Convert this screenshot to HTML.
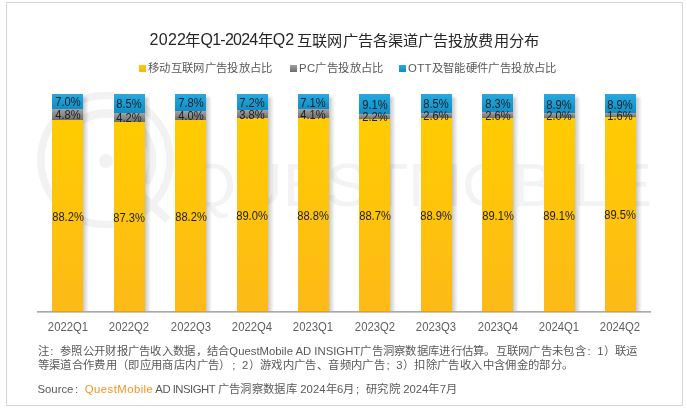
<!DOCTYPE html>
<html lang="zh-CN"><head><meta charset="utf-8">
<style>
*{margin:0;padding:0;box-sizing:border-box}
html,body{width:687px;height:412px;background:#fff;overflow:hidden;font-family:"Liberation Sans",sans-serif}
#root{position:absolute;left:0;top:0;width:687px;height:412px;will-change:transform}
#frame{position:absolute;left:6px;top:2px;width:677px;height:404px;border:1px solid #d6d6d6}
.seg{position:absolute;width:31px}
.ott{background:linear-gradient(#27a9df,#0e8ec7)}
.pc{background:linear-gradient(#a3a3a3,#6f6f6f)}
.mob{background:linear-gradient(#ffcc00,#fdba18 calc(100% - 1px),#e0a21a calc(100% - 1px))}
.shd{position:absolute;top:95.0px;height:216.0px;width:6px;background:linear-gradient(90deg,rgba(0,0,0,.22),rgba(0,0,0,.17) 20%,rgba(0,0,0,.1) 50%,rgba(0,0,0,0));-webkit-mask-image:linear-gradient(#0000,#000 4px);mask-image:linear-gradient(#0000,#000 4px)}
.lbl{position:absolute;width:60px;height:14px;line-height:14px;text-align:center;font-size:12px;color:#1e1e1e;transform:scaleX(0.93)}
.xl{position:absolute;top:319.2px;width:60px;text-align:center;font-size:13px;color:#606060;line-height:16px;transform:scaleX(0.87)}
#axis{position:absolute;left:37.20px;top:311px;width:613.90px;height:2px;background:linear-gradient(#a9a9a9 50%,#c6c6c6 50%)}
.t{position:absolute;white-space:nowrap;line-height:20px;color:#262626}
.leg{position:absolute;top:60.2px;font-size:11.35px;letter-spacing:0.35px;color:#595959;line-height:16px;white-space:nowrap}
.sq{position:absolute;width:7px;height:7px;top:65px}
.note{position:absolute;left:37.5px;font-size:11.33px;letter-spacing:0.36px;color:#595959;line-height:14px;white-space:nowrap}
.qm{color:#f7941d}
.la{letter-spacing:0}
.fc{display:inline-block;width:11.36px;text-indent:1.5px;letter-spacing:0}
.wm{position:absolute}
</style></head><body><div id="root">
<div id="frame"></div>
<svg class="wm" width="687" height="412" style="left:0;top:0">
<g fill="none" stroke="#f2f2f2">
<circle cx="105.5" cy="160" r="64.5" stroke-width="7.5"/>
<path d="M 65.2 183.2 A 46.5 46.5 0 1 1 145.8 183.2" stroke-width="8.5"/>
<path d="M 143 197 L 168 220" stroke-width="8"/>
</g>
<circle cx="106" cy="161" r="7" fill="#f2f2f2"/>
<text x="186" y="205.5" font-family="Liberation Sans" font-size="61" fill="#f3f3f3" textLength="466" lengthAdjust="spacingAndGlyphs">QUESTMOBILE</text>
</svg>
<div class="t" id="t1" style="left:149.5px;top:30px;font-size:16px;letter-spacing:0.3px">2022</div>
<div class="t" id="t2" style="margin-top:1px;left:184.5px;top:30px;font-size:15.5px">年</div>
<div class="t" id="t3" style="left:200.5px;top:30px;font-size:16px;letter-spacing:-0.75px">Q1-2024</div>
<div class="t" id="t4" style="margin-top:1px;left:257.8px;top:30px;font-size:15.5px">年</div>
<div class="t" id="t5" style="left:272.8px;top:30px;font-size:16px">Q2</div>
<div class="t" id="t6" style="margin-top:1px;left:297.3px;top:30px;font-size:15.2px;letter-spacing:0.1px">互联网广告各渠道广告投放费用分布</div>
<div class="sq" style="left:139px;background:linear-gradient(#ffcc00,#f9b418)"></div>
<div class="sq" style="left:290px;background:linear-gradient(#a0a0a0,#6e6e6e)"></div>
<div class="sq" style="left:399px;background:linear-gradient(#27a9df,#0e8ec7)"></div>
<div class="leg" id="l1" style="left:148px">移动互联网广告投放占比</div>
<div class="leg" id="l2" style="left:299px">PC广告投放占比</div>
<div class="leg" id="l3" style="left:408px">OTT及智能硬件广告投放占比</div>
<div id="axis"></div>
<div class="shd" style="left:83.40px"></div>
<div class="seg ott" style="left:52.40px;top:94.00px;height:15.26px"></div>
<div class="seg pc" style="left:52.40px;top:109.26px;height:10.46px"></div>
<div class="seg mob" style="left:52.40px;top:119.72px;height:192.28px"></div>
<div class="shd" style="left:144.79px"></div>
<div class="seg ott" style="left:113.79px;top:94.00px;height:18.53px"></div>
<div class="seg pc" style="left:113.79px;top:112.53px;height:9.16px"></div>
<div class="seg mob" style="left:113.79px;top:121.69px;height:190.31px"></div>
<div class="shd" style="left:206.18px"></div>
<div class="seg ott" style="left:175.18px;top:94.00px;height:17.00px"></div>
<div class="seg pc" style="left:175.18px;top:111.00px;height:8.72px"></div>
<div class="seg mob" style="left:175.18px;top:119.72px;height:192.28px"></div>
<div class="shd" style="left:267.57px"></div>
<div class="seg ott" style="left:236.57px;top:94.00px;height:15.70px"></div>
<div class="seg pc" style="left:236.57px;top:109.70px;height:8.28px"></div>
<div class="seg mob" style="left:236.57px;top:117.98px;height:194.02px"></div>
<div class="shd" style="left:328.96px"></div>
<div class="seg ott" style="left:297.96px;top:94.00px;height:15.48px"></div>
<div class="seg pc" style="left:297.96px;top:109.48px;height:8.94px"></div>
<div class="seg mob" style="left:297.96px;top:118.42px;height:193.58px"></div>
<div class="shd" style="left:390.35px"></div>
<div class="seg ott" style="left:359.35px;top:94.00px;height:19.84px"></div>
<div class="seg pc" style="left:359.35px;top:113.84px;height:4.80px"></div>
<div class="seg mob" style="left:359.35px;top:118.63px;height:193.37px"></div>
<div class="shd" style="left:451.74px"></div>
<div class="seg ott" style="left:420.74px;top:94.00px;height:18.53px"></div>
<div class="seg pc" style="left:420.74px;top:112.53px;height:5.67px"></div>
<div class="seg mob" style="left:420.74px;top:118.20px;height:193.80px"></div>
<div class="shd" style="left:513.13px"></div>
<div class="seg ott" style="left:482.13px;top:94.00px;height:18.09px"></div>
<div class="seg pc" style="left:482.13px;top:112.09px;height:5.67px"></div>
<div class="seg mob" style="left:482.13px;top:117.76px;height:194.24px"></div>
<div class="shd" style="left:574.52px"></div>
<div class="seg ott" style="left:543.52px;top:94.00px;height:19.40px"></div>
<div class="seg pc" style="left:543.52px;top:113.40px;height:4.36px"></div>
<div class="seg mob" style="left:543.52px;top:117.76px;height:194.24px"></div>
<div class="shd" style="left:635.91px"></div>
<div class="seg ott" style="left:604.91px;top:94.00px;height:19.40px"></div>
<div class="seg pc" style="left:604.91px;top:113.40px;height:3.49px"></div>
<div class="seg mob" style="left:604.91px;top:116.89px;height:195.11px"></div>
<div class="lbl" style="left:37.90px;top:95.43px">7.0%</div>
<div class="lbl" style="left:37.90px;top:108.29px">4.8%</div>
<div class="lbl" style="left:37.90px;top:209.66px">88.2%</div>
<div class="lbl" style="left:99.29px;top:97.06px">8.5%</div>
<div class="lbl" style="left:99.29px;top:110.91px">4.2%</div>
<div class="lbl" style="left:99.29px;top:210.64px">87.3%</div>
<div class="lbl" style="left:160.68px;top:96.30px">7.8%</div>
<div class="lbl" style="left:160.68px;top:109.16px">4.0%</div>
<div class="lbl" style="left:160.68px;top:209.66px">88.2%</div>
<div class="lbl" style="left:222.07px;top:95.65px">7.2%</div>
<div class="lbl" style="left:222.07px;top:107.64px">3.8%</div>
<div class="lbl" style="left:222.07px;top:208.79px">89.0%</div>
<div class="lbl" style="left:283.46px;top:95.54px">7.1%</div>
<div class="lbl" style="left:283.46px;top:107.75px">4.1%</div>
<div class="lbl" style="left:283.46px;top:209.01px">88.8%</div>
<div class="lbl" style="left:344.85px;top:97.72px">9.1%</div>
<div class="lbl" style="left:344.85px;top:110.04px">2.2%</div>
<div class="lbl" style="left:344.85px;top:209.12px">88.7%</div>
<div class="lbl" style="left:406.24px;top:97.06px">8.5%</div>
<div class="lbl" style="left:406.24px;top:109.16px">2.6%</div>
<div class="lbl" style="left:406.24px;top:208.90px">88.9%</div>
<div class="lbl" style="left:467.63px;top:96.85px">8.3%</div>
<div class="lbl" style="left:467.63px;top:108.73px">2.6%</div>
<div class="lbl" style="left:467.63px;top:208.68px">89.1%</div>
<div class="lbl" style="left:529.02px;top:97.50px">8.9%</div>
<div class="lbl" style="left:529.02px;top:109.38px">2.0%</div>
<div class="lbl" style="left:529.02px;top:208.68px">89.1%</div>
<div class="lbl" style="left:590.41px;top:97.50px">8.9%</div>
<div class="lbl" style="left:590.41px;top:108.95px">1.6%</div>
<div class="lbl" style="left:590.41px;top:208.25px">89.5%</div>
<div class="xl" style="left:37.90px">2022Q1</div>
<div class="xl" style="left:99.29px">2022Q2</div>
<div class="xl" style="left:160.68px">2022Q3</div>
<div class="xl" style="left:222.07px">2022Q4</div>
<div class="xl" style="left:283.46px">2023Q1</div>
<div class="xl" style="left:344.85px">2023Q2</div>
<div class="xl" style="left:406.24px">2023Q3</div>
<div class="xl" style="left:467.63px">2023Q4</div>
<div class="xl" style="left:529.02px">2024Q1</div>
<div class="xl" style="left:590.41px">2024Q2</div>
<div class="note" id="n1" style="top:343.7px;letter-spacing:0.28px">注<span class="fc">:</span>参照公开财报广告收入数据，结合<span class="la" id="qa">QuestMobile AD INSIGHT</span>广告洞察数据库进行估算。互联网广告未包含<span class="fc">:</span>1）联运</div>
<div class="note" id="n2" style="top:357.7px">等渠道合作费用（即应用商店内广告）<span class="fc">;</span>2）游戏内广告、音频内广告<span class="fc">;</span>3）扣除广告收入中含佣金的部分。</div>
<div class="note" id="n3" style="top:381.8px"><span class="la">Source</span><span class="fc">:</span><span class="qm" style="letter-spacing:0.45px">QuestMobile</span><span style="letter-spacing:-0.5px"> AD INSIGHT </span>广告洞察数据库<span class="la"> 2024</span>年<span class="la">6</span>月<span class="fc">;</span>研究院<span class="la"> 2024</span>年<span class="la">7</span>月</div>
</div></body></html>
